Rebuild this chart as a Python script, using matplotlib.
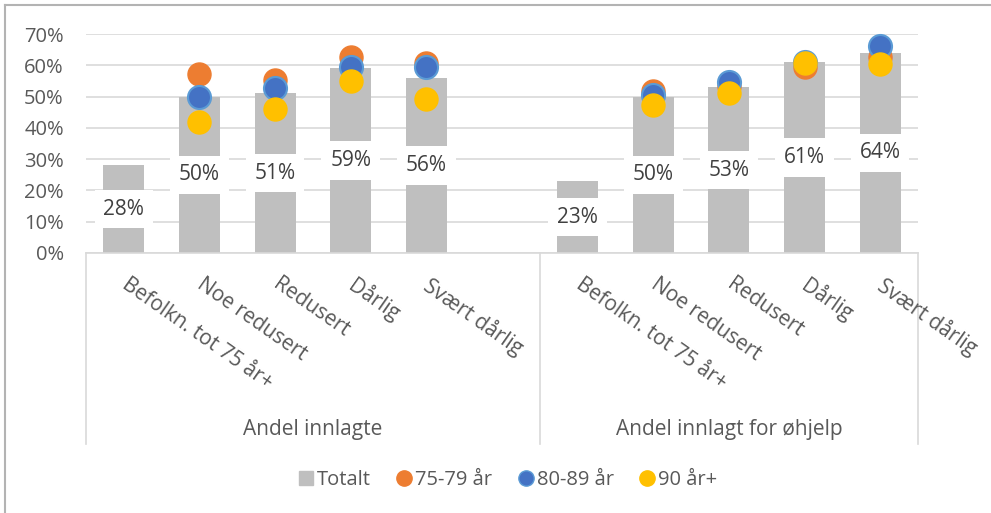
import numpy as np
import matplotlib.pyplot as plt
from matplotlib.lines import Line2D

plt.rcParams['font.family'] = ['Open Sans', 'DejaVu Sans']

# --- data ---
groups = ['Andel innlagte', 'Andel innlagt for øhjelp']
categories = ['Befolkn. tot 75 år+', 'Noe redusert', 'Redusert', 'Dårlig', 'Svært dårlig']

totalt_innlagte = [0.28, 0.50, 0.51, 0.59, 0.56]
totalt_ohjelp = [0.23, 0.50, 0.53, 0.61, 0.64]

a7579_innlagte = [np.nan, 0.572, 0.553, 0.627, 0.608]
a7579_ohjelp = [np.nan, 0.519, 0.535, 0.595, 0.627]

a8089_innlagte = [np.nan, 0.500, 0.526, 0.595, 0.595]
a8089_ohjelp = [np.nan, 0.505, 0.545, 0.611, 0.663]

a90_innlagte = [np.nan, 0.420, 0.461, 0.550, 0.492]
a90_ohjelp = [np.nan, 0.472, 0.510, 0.608, 0.604]

y_ticks = [0, 0.1, 0.2, 0.3, 0.4, 0.5, 0.6, 0.7]

# colours
c_bar = '#BFBFBF'
c_orange = '#ED7D31'
c_blue = '#4472C4'
c_yellow = '#FFC000'
c_text = '#595959'
c_grid = '#D9D9D9'

# x slots: group 1 uses 0-4 (slot 5 empty), group 2 uses 6-10
x1 = np.arange(5)
x2 = np.arange(6, 11)
xs = np.concatenate([x1, x2])
totalt = totalt_innlagte + totalt_ohjelp
a7579 = a7579_innlagte + a7579_ohjelp
a8089 = a8089_innlagte + a8089_ohjelp
a90 = a90_innlagte + a90_ohjelp

W, H = 991, 513
fig = plt.figure(figsize=(W / 100, H / 100), dpi=100)
ax = fig.add_axes([86 / W, 260 / H, 832 / W, 219 / H])

ax.bar(xs, totalt, width=0.54, color=c_bar, zorder=2)
ax.scatter(xs, a7579, s=275, color=c_orange, edgecolor=c_orange, zorder=4, clip_on=False)
ax.scatter(xs, a8089, s=275, color=c_blue, edgecolor='#5B9BD5', linewidth=1.5, zorder=5, clip_on=False)
ax.scatter(xs, a90, s=275, color=c_yellow, edgecolor=c_yellow, zorder=6, clip_on=False)

# data labels in white boxes at bar middle
for x, v in zip(xs, totalt):
    ax.text(x, v / 2, f'{v * 100:.0f}%', ha='center', va='center', fontsize=15,
            color='#404040', zorder=3,
            bbox=dict(boxstyle='square,pad=0.42', facecolor='white', edgecolor='none'))

ax.set_xlim(-0.5, 10.5)
ax.set_ylim(0, 0.7)
ax.set_yticks(y_ticks)
ax.set_yticklabels([f'{t * 100:.0f}%' for t in y_ticks], fontsize=14.5, color=c_text)
ax.tick_params(axis='y', length=0, pad=16)
ax.set_xticks([])
ax.yaxis.grid(True, color=c_grid, linewidth=1.2)
ax.set_axisbelow(True)
for side in ['left', 'right', 'top']:
    ax.spines[side].set_visible(False)
ax.spines['bottom'].set_color(c_grid)
ax.spines['bottom'].set_linewidth(1.2)

# category labels, rotated
tr = ax.get_xaxis_transform()
for x, lab in zip(xs, categories + categories):
    ax.text(x + 0.08, -21 / 219, lab, transform=tr, rotation=-35, rotation_mode='anchor',
            ha='left', va='top', fontsize=15, color=c_text)

# group separators and group labels
for xl in [-0.5, 5.5, 10.5]:
    ax.add_line(Line2D([xl, xl], [0, -191 / 219], transform=tr, color=c_grid,
                       linewidth=1.2, clip_on=False))
ax.text(2.5, -177 / 219, groups[0], transform=tr, ha='center', va='center',
        fontsize=15, color=c_text)
ax.text(8.0, -177 / 219, groups[1], transform=tr, ha='center', va='center',
        fontsize=15, color=c_text)

# legend
handles = [
    Line2D([], [], marker='s', linestyle='none', markersize=10, color=c_bar),
    Line2D([], [], marker='o', linestyle='none', markersize=11, color=c_orange),
    Line2D([], [], marker='o', linestyle='none', markersize=11, color=c_blue,
           markeredgecolor='#5B9BD5'),
    Line2D([], [], marker='o', linestyle='none', markersize=11, color=c_yellow),
]
leg = fig.legend(handles, ['Totalt', '75-79 år', '80-89 år', '90 år+'], loc='center',
                 bbox_to_anchor=(508 / W, 1 - 480 / H), ncol=4, frameon=False,
                 handlelength=0.7, handletextpad=0.2, columnspacing=1.3, fontsize=14.5)
for t in leg.get_texts():
    t.set_color(c_text)

# chart border (left and top visible)
fig.add_artist(Line2D([4.5 / W, 4.5 / W], [0, 1 - 4.5 / H], color='#B3B3B3', linewidth=1.5))
fig.add_artist(Line2D([4.5 / W, 1], [1 - 4.5 / H, 1 - 4.5 / H], color='#B3B3B3', linewidth=1.5))

fig.savefig('out.png', dpi=100)
